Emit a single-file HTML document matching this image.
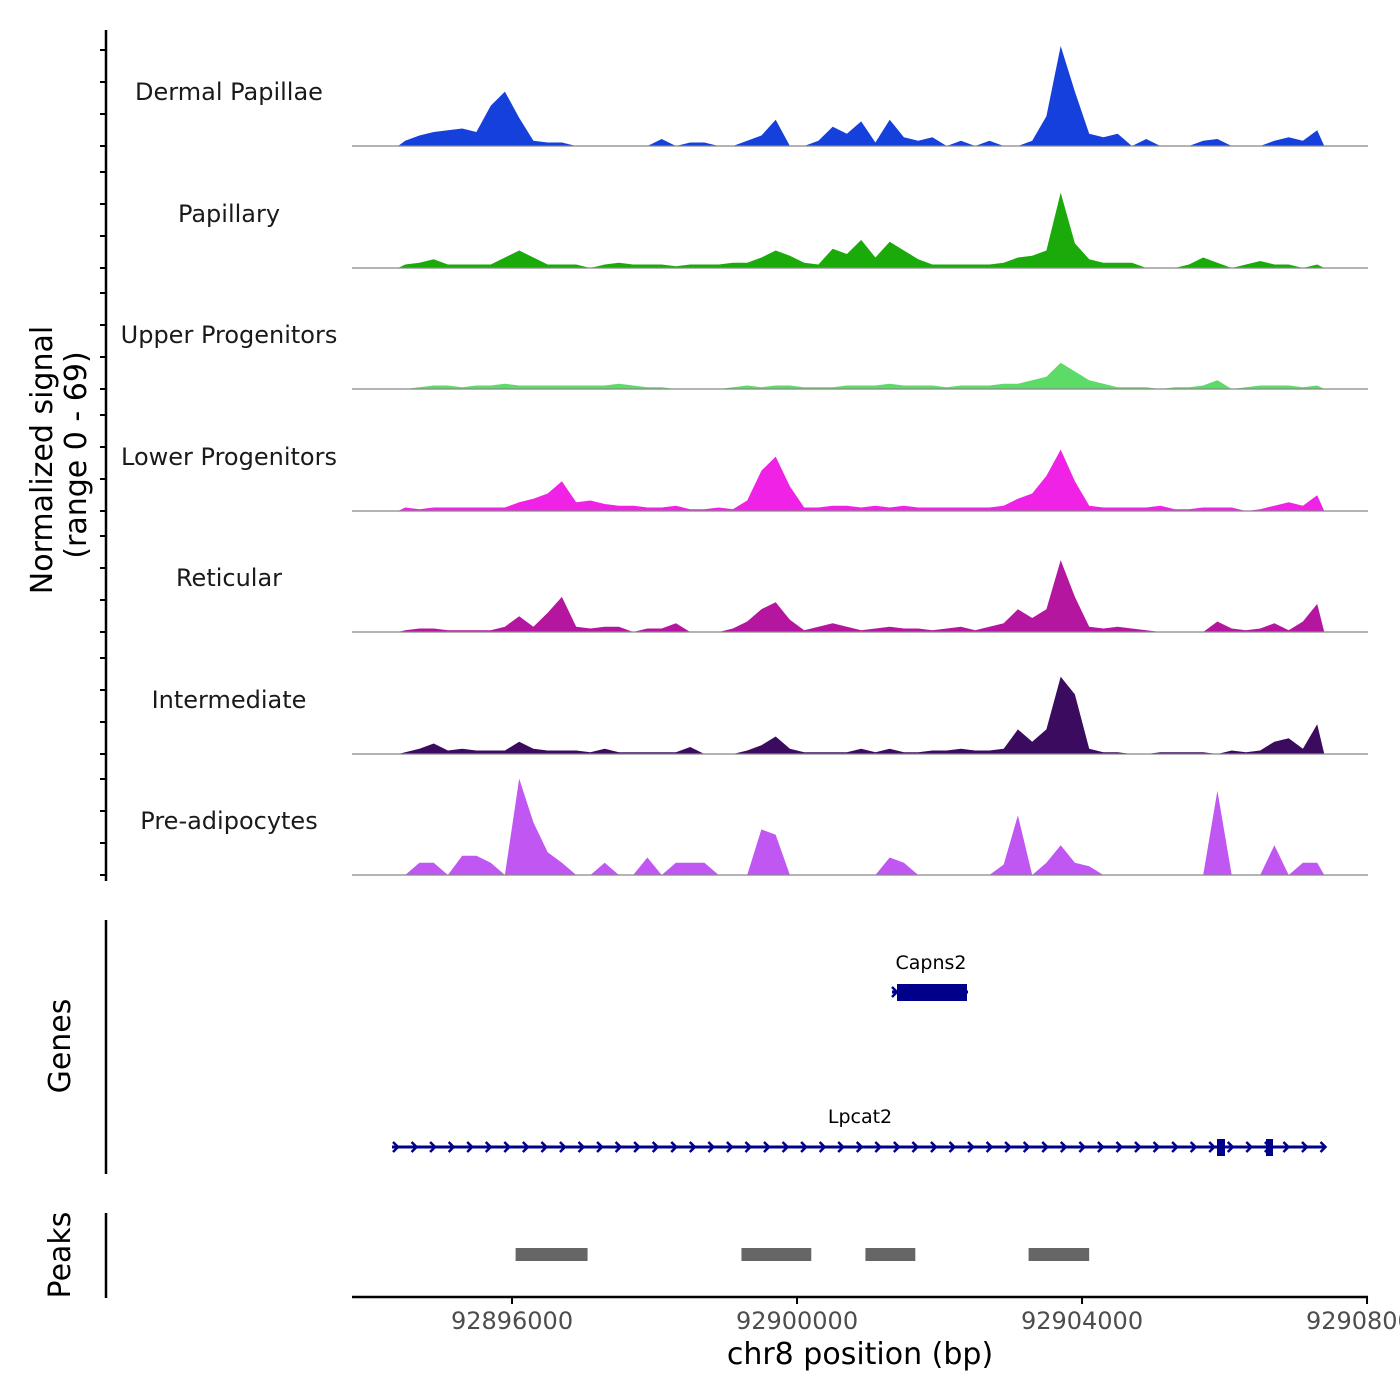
<!DOCTYPE html>
<html><head><meta charset="utf-8"><style>
html,body{margin:0;padding:0;background:#fff;}
svg{display:block;font-family:"DejaVu Sans","Liberation Sans",sans-serif;}
</style></head><body>
<svg id="chart" width="1400" height="1400" viewBox="0 0 1400 1400">
<g id="left-axes"></g>
<g id="tracks"></g>
<g id="genes"></g>
<g id="peaks"></g>
<g id="xaxis"></g>
</svg>
<script>
const trackNames = ["Dermal Papillae","Papillary","Upper Progenitors","Lower Progenitors","Reticular","Intermediate","Pre-adipocytes"];
const trackColors = ["#1640dc","#1aab0a","#5cdb68","#f022e6","#b5169f","#3a0b5e","#c057f2"];
const binStart = 92894400;
const binSize = 200;
const sigDermal = [3,6,8,9,10,8,23,31,16,3,2,2,0,0,0,0,0,0,4,0,2,2,0,0,3,6,15,0,0,3,11,7,14,2,15,5,3,5,0,3,0,3,0,0,3,17,57,31,7,5,7,0,4,0,0,0,3,4,0,0,0,3,5,3,9];
const sigPapillary = [2,3,5,2,2,2,2,6,10,6,2,2,2,0,2,3,2,2,2,1,2,2,2,3,3,6,10,7,3,2,11,8,16,6,15,10,5,2,2,2,2,2,3,6,7,10,43,14,5,3,3,3,0,0,0,2,6,3,0,2,4,2,2,0,2];
const sigUpper = [0,1,2,2,1,2,2,3,2,2,2,2,2,2,2,3,2,1,1,0,0,0,0,1,2,1,2,2,1,1,1,2,2,2,3,2,2,2,1,2,2,2,3,3,5,7,15,10,5,3,1,1,1,0,1,1,2,5,0,1,2,2,2,1,2];
const sigLower = [2,1,2,2,2,2,2,2,5,7,10,17,5,6,4,3,3,2,2,3,1,1,2,1,6,23,31,14,2,2,3,3,2,3,2,3,2,2,2,2,2,2,3,7,10,20,35,17,3,2,2,2,2,3,1,1,2,2,2,0,1,3,5,3,9];
const sigReticular = [1,2,2,1,1,1,1,3,9,3,11,20,3,2,3,3,0,2,2,5,0,0,0,2,6,13,17,7,1,3,5,3,1,2,3,2,2,1,2,3,1,3,5,13,8,13,41,20,3,2,3,2,1,0,0,0,0,6,2,1,2,5,1,6,16];
const sigIntermediate = [1,3,6,2,3,2,2,2,7,3,2,2,2,1,3,1,1,1,1,1,4,0,0,0,2,5,10,3,1,1,1,1,3,1,3,1,1,2,2,3,2,2,3,14,7,14,44,34,3,1,1,0,0,1,1,1,1,0,2,1,2,7,9,3,17];
const sigPreadipo = [0,7,7,0,11,11,7,0,55,30,13,7,0,0,7,0,0,10,0,7,7,7,0,0,0,26,23,0,0,0,0,0,0,0,10,7,0,0,0,0,0,0,6,34,0,7,17,7,5,0,0,0,0,0,0,0,0,48,0,0,0,17,0,7,7];
const xTicks = [92896000,92900000,92904000,92908000];
const peakStarts = [92896050,92899220,92900960,92903250];
const peakEnds = [92897060,92900200,92901660,92904100];
const yMax = 69;

const NS="http://www.w3.org/2000/svg";
const X0=352, X1=1368, BP0=92893754, PXBP=0.07125;
const xs = bp => X0 + (bp-BP0)*PXBP;
const baselines=[146,268,389,511,632,754,875];
const trackH=121;
const ys = (v,b) => b - v/yMax*trackH;
function mk(tag,attrs,parent){const e=document.createElementNS(NS,tag);for(const k in attrs)e.setAttribute(k,attrs[k]);parent.appendChild(e);return e;}

const L=document.getElementById('left-axes');
mk('line',{x1:106,y1:30,x2:106,y2:881,stroke:'#000','stroke-width':2.5},L);
baselines.forEach(b=>{for(let j=0;j<4;j++){const y=b-32*j;mk('line',{x1:100,y1:y,x2:106,y2:y,stroke:'#000','stroke-width':2},L);}});
let t=mk('text',{x:0,y:0,'font-size':30,'text-anchor':'middle',transform:'translate(52,460) rotate(-90)'},L);
t.textContent='Normalized signal';


t=mk('text',{x:0,y:0,'font-size':30,'text-anchor':'middle',transform:'translate(86,455) rotate(-90)'},L);
t.textContent='(range 0 - 69)';


mk('line',{x1:106,y1:920,x2:106,y2:1174,stroke:'#000','stroke-width':2.5},L);
t=mk('text',{x:0,y:0,'font-size':30,'text-anchor':'middle',transform:'translate(70,1046) rotate(-90)'},L);
t.textContent='Genes';


mk('line',{x1:106,y1:1213,x2:106,y2:1298,stroke:'#000','stroke-width':2.5},L);
t=mk('text',{x:0,y:0,'font-size':30,'text-anchor':'middle',transform:'translate(70,1255) rotate(-90)'},L);
t.textContent='Peaks';



const T=document.getElementById('tracks');
const sigs=[sigDermal,sigPapillary,sigUpper,sigLower,sigReticular,sigIntermediate,sigPreadipo];
sigs.forEach((s,k)=>{
  const b=baselines[k];
  const g=mk('g',{},T);
  
  
  let d='M'+xs(binStart)+','+b;
  s.forEach((v,i)=>{const bp=binStart+binSize*(i+0.5);d+=' L'+xs(bp).toFixed(1)+','+ys(v,b).toFixed(1);});
  d+=' L'+xs(binStart+binSize*s.length)+','+b+' Z';
  const p=mk('path',{d:d,fill:trackColors[k]},g);
  
  
  const ln=mk('line',{x1:X0,y1:b,x2:X1,y2:b,stroke:'#888','stroke-width':1.2},g);
  
  
  const lb=mk('text',{x:229,y:b-46,'font-size':24,'text-anchor':'middle',fill:'#1a1a1a'},g);
  lb.textContent=trackNames[k];
  
  
});

const G=document.getElementById('genes');
const gc='#00008b';
function chevron(x,y,g){mk('polyline',{points:(x-3)+','+(y-5)+' '+(x+2)+','+y+' '+(x-3)+','+(y+5),fill:'none',stroke:gc,'stroke-width':2.5},g);}
let cg=mk('g',{},G);


mk('line',{x1:892,y1:992,x2:968,y2:992,stroke:gc,'stroke-width':3},cg);
chevron(895,992,cg);
mk('rect',{x:897,y:984,width:70,height:17,fill:gc},cg);
t=mk('text',{x:931,y:969,'font-size':19,'text-anchor':'middle',fill:'#000'},cg);t.textContent='Capns2';
let lg=mk('g',{},G);


mk('line',{x1:392,y1:1147,x2:1325,y2:1147,stroke:gc,'stroke-width':3},lg);
for(let x=396;x<=1324;x+=18.55)chevron(x,1147,lg);
mk('rect',{x:1217,y:1139,width:8,height:17,fill:gc},lg);
mk('rect',{x:1266,y:1139,width:7,height:17,fill:gc},lg);
t=mk('text',{x:860,y:1123,'font-size':19,'text-anchor':'middle',fill:'#000'},lg);t.textContent='Lpcat2';

const P=document.getElementById('peaks');
peakStarts.forEach((s,i)=>{
  const r=mk('rect',{x:xs(s),y:1248,width:xs(peakEnds[i])-xs(s),height:13,fill:'#666'},P);
  
  
});

const XA=document.getElementById('xaxis');
mk('line',{x1:X0,y1:1297,x2:X1,y2:1297,stroke:'#000','stroke-width':2.5},XA);
xTicks.forEach(v=>{
  const x=xs(v);
  mk('line',{x1:x,y1:1297,x2:x,y2:1304,stroke:'#000','stroke-width':2},XA);
  const tl=mk('text',{x:x,y:1329,'font-size':24,'text-anchor':'middle',fill:'#4d4d4d'},XA);
  tl.textContent=String(v);
  
  
});
t=mk('text',{x:860,y:1364,'font-size':30,'text-anchor':'middle',fill:'#000'},XA);
t.textContent='chr8 position (bp)';


</script>
</body></html>
